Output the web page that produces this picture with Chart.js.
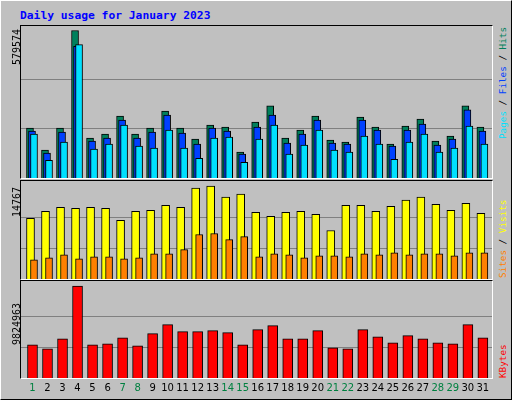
<!DOCTYPE html>
<html><head><meta charset="utf-8">
<script src="https://cdn.jsdelivr.net/npm/chart.js@4/dist/chart.umd.min.js"></script>
<style>
body{margin:0;background:#fff}
#root{position:relative;width:510px;height:398px;background:#c0c0c0;border-top:1px solid #fff;border-left:1px solid #fff;border-right:1px solid #000;border-bottom:1px solid #000;overflow:hidden}
.panel{position:absolute;left:19px;width:471px;border-top:1px solid #000;border-left:1px solid #000;border-right:1px solid #fff;border-bottom:1px solid #fff}
.cv{position:absolute;left:0;top:0}
.t{position:absolute;font-family:"DejaVu Sans Mono",monospace;white-space:nowrap}
.rot{transform-origin:0 0;transform:rotate(-90deg)}
.day{position:absolute;top:381px;width:16px;text-align:center;font-family:"DejaVu Sans",sans-serif;font-size:10px}
</style></head><body>
<div id="root">
<div class="t" style="left:19px;top:8px;font-size:11.3px;font-weight:bold;color:#0000ff">Daily usage for January 2023</div>
<div class="panel" style="top:24px;height:152px"><canvas id="c1"></canvas></div>
<div class="panel" style="top:179px;height:98px"><canvas id="c2"></canvas></div>
<div class="panel" style="top:279px;height:97px"><canvas id="c3"></canvas></div>
<div class="t rot" style="left:10px;top:64px;font-size:10px">579574</div>
<div class="t rot" style="left:10px;top:216px;font-size:10px">14767</div>
<div class="t rot" style="left:10px;top:344px;font-size:10px">9824963</div>
<div class="t rot" style="left:496px;top:138px;font-size:9.3px"><span style="color:#00e0ff">Pages</span><span> / </span><span style="color:#0040ff">Files</span><span> / </span><span style="color:#00805c">Hits</span></div>
<div class="t rot" style="left:496px;top:277px;font-size:9.3px"><span style="color:#ff8000">Sites</span><span> / </span><span style="color:#ffff00">Visits</span></div>
<div class="t rot" style="left:496px;top:377px;font-size:9.3px;color:#ff0000">KBytes</div>
<div id="days"></div>
</div>
<script>
const days=[1,2,3,4,5,6,7,8,9,10,11,12,13,14,15,16,17,18,19,20,21,22,23,24,25,26,27,28,29,30,31];
const weekend=[1,7,8,14,15,21,22,28,29];
const hits=[196263,109328,196263,579574,156747,172553,243682,172553,196263,263440,196263,152795,208118,200214,101424,219972,283198,156747,188360,243682,148844,140940,239730,200214,133037,204166,231827,144892,164650,283198,200214];
const files=[184408,97473,180456,517660,144892,156747,227876,156747,180456,247634,176505,133037,196263,184408,93521,200214,247634,136989,172553,227876,136989,133037,227876,188360,125134,188360,212069,129086,152795,267392,184408];
const pages=[172553,69812,140940,524246,113279,133037,208118,125134,117231,188360,117231,77715,156747,160698,61908,152795,208118,93521,129086,188360,109328,101424,164650,133037,73763,140940,172553,101424,117231,204166,133037];
const visits=[9630,10754,11396,11235,11396,11235,9309,10754,10914,11717,11396,14445,14767,13001,13482,10593,9951,10593,10754,10272,7704,11717,11717,10754,11556,12519,13001,11877,10914,12038,10433];
const sites=[3050,3371,3852,3210,3531,3531,3210,3371,4013,4013,4655,7062,7223,6260,6741,3531,4013,3852,3371,3692,3692,3531,4013,3852,4173,3852,4013,4013,3692,4173,4173];
const kbytes=[3549942,3119646,4195386,9824963,3549942,3657516,4302960,3442368,4733256,5701422,4948404,4948404,5055978,4840830,3549942,5163552,5593848,4195386,4195386,5055978,3227220,3119646,5163552,4410534,3765090,4518108,4195386,3765090,3657516,5701422,4302960];
const maxHits=579574,maxVisits=14767,maxKB=9824963;

const XMIN=0.234,XMAX=31.607;
function mk(id,h,ds,max,top){
  const c=document.getElementById(id);
  c.style.width='471px';c.style.height=h+'px';
  new Chart(c,{type:'bar',data:{datasets:ds.map((d,k)=>({data:days.map((x,i)=>({x:x+d.off,y:d.v[i]})),backgroundColor:d.c,borderColor:'#000',borderWidth:1,barThickness:d.w,order:ds.length-k,grouped:false,borderSkipped:'bottom'}))},
  options:{responsive:false,maintainAspectRatio:false,animation:false,layout:{padding:0},
    plugins:{legend:{display:false},tooltip:{enabled:false}},
    scales:{x:{type:'linear',min:XMIN,max:XMAX,offset:false,display:false},
      y:{min:0,max:top,border:{display:false},ticks:{display:false},
        afterBuildTicks:a=>{a.ticks=[{value:max/3},{value:2*max/3}];},
        grid:{color:'#808080',drawTicks:false,lineWidth:1}}}}});
}
mk('c1',152,[{v:hits,c:'#00805c',off:-0.167,w:7},{v:files,c:'#0040ff',off:-0.033,w:7},{v:pages,c:'#00e0ff',off:0.1,w:7}],maxHits,maxHits*152/147.5);
mk('c2',98,[{v:visits,c:'#ffff00',off:-0.133,w:8},{v:sites,c:'#ff8000',off:0.1,w:7}],maxVisits,maxVisits*97.5/92.5);
mk('c3',97,[{v:kbytes,c:'#ff0000',off:0,w:10}],maxKB,maxKB*96.5/91.5);
const dd=document.getElementById('days');
days.forEach((d,i)=>{const e=document.createElement('div');e.className='day';e.textContent=d;
  e.style.left=(31.5-8+i*15.013)+'px';e.style.color=weekend.includes(d)?'#008040':'#000';dd.appendChild(e);});
</script>
</body></html>
